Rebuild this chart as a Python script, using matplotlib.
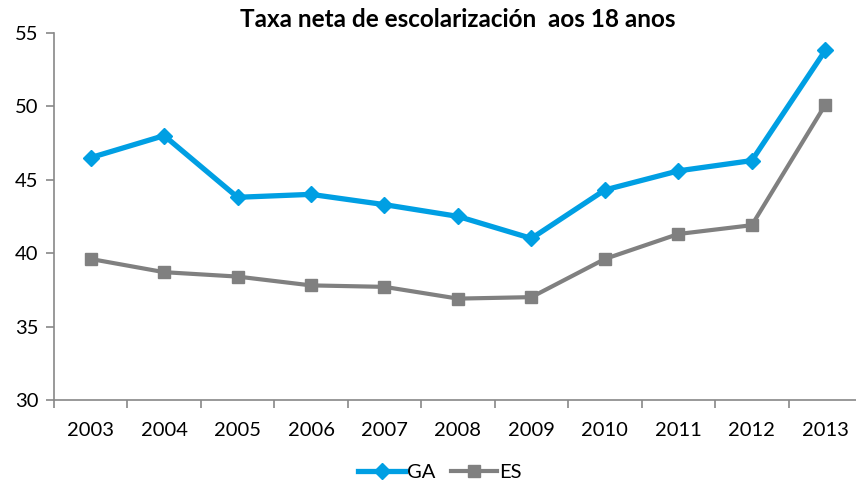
import matplotlib
matplotlib.use("Agg")
import matplotlib.pyplot as plt
import numpy as np

years = ["2003", "2004", "2005", "2006", "2007", "2008", "2009", "2010", "2011", "2012", "2013"]
ga = [46.5, 48.0, 43.8, 44.0, 43.3, 42.5, 41.0, 44.3, 45.6, 46.3, 53.8]
es = [39.6, 38.7, 38.4, 37.8, 37.7, 36.9, 37.0, 39.6, 41.3, 41.9, 50.1]

plt.rcParams["font.family"] = ["Lato", "DejaVu Sans"]

fig = plt.figure(figsize=(8.56, 4.83), dpi=100)
# the plot area runs slightly past the right edge of the figure, as in the original
ax = fig.add_axes([0.063, 0.172, 0.944, 0.76])

x = np.arange(len(years))
ax.plot(x, ga, color="#009fe3", lw=3.8, marker="D", ms=8, label="GA", clip_on=False)
ax.plot(x, es, color="#808080", lw=3, marker="s", ms=9, label="ES", clip_on=False)

ax.set_xlim(-0.5, len(years) - 0.5)
ax.set_ylim(30, 55)
ax.set_yticks(range(30, 56, 5))
ax.set_xticks(x)
ax.set_xticklabels(years)
ax.set_xticks(np.arange(-0.5, len(years)), minor=True)
ax.tick_params(axis="x", which="major", length=0, pad=16, labelsize=14.5)
ax.tick_params(axis="x", which="minor", length=6, width=1.2, color="#888888", direction="out")
ax.tick_params(axis="y", length=6, width=1.2, color="#888888", labelsize=14.5, pad=5)

for side in ("top", "right"):
    ax.spines[side].set_visible(False)
for side in ("left", "bottom"):
    ax.spines[side].set_color("#888888")
    ax.spines[side].set_linewidth(1.2)

ax.set_title("Taxa neta de escolarización  aos 18 anos", fontsize=17.5, fontweight="bold", pad=4)

ax.legend(loc="upper center", bbox_to_anchor=(0.478, -0.125), ncol=2, frameon=False,
          fontsize=14.5, handlelength=2.3, columnspacing=0.8, handletextpad=0.1)

fig.savefig("out.png", dpi=100)
